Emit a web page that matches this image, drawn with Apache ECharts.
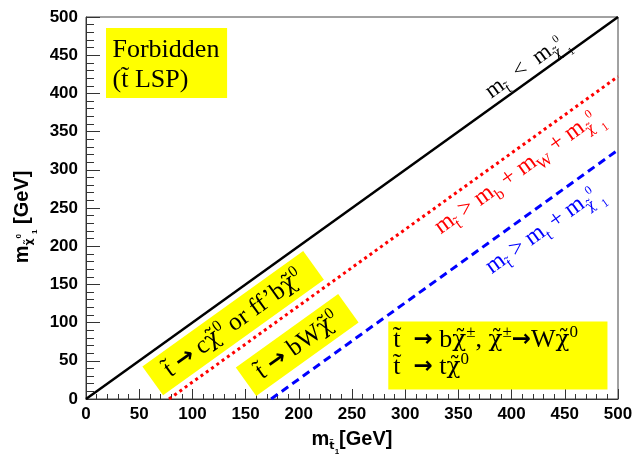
<!DOCTYPE html>
<html><head><meta charset="utf-8">
<script src="https://cdn.jsdelivr.net/npm/echarts@6.0.0/dist/echarts.min.js"></script>
<style>html,body{margin:0;padding:0;background:#fff;}#main{width:644px;height:459px;}</style>
</head><body><div id="main"></div>
<script>
// ---------------- data ----------------
const axisMin = 0;
const axisMax = 500;
const tickStep = 50;
// m(stop) = m(chi)
const limitStopLspX = [0, 500];
const limitStopLspY = [0, 500];
// m(stop) = m(b) + m(W) + m(chi)
const limitBWX = [78, 500];
const limitBWY = [0, 422];
// m(stop) = m(t) + m(chi)
const limitTopX = [174, 500];
const limitTopY = [0, 326];

const T = 't\u0303';      // stop (t tilde)
const CHI = '\u03c7\u0303'; // neutralino (chi tilde)
const ARR = '\u2192';

const SERIF = "'Liberation Serif','Times New Roman',serif";
const DJS = "'DejaVu Serif',serif";
const SANS = "'Liberation Sans',Arial,Helvetica,sans-serif";

function pairs(xs, ys) { return xs.map((x, i) => [x, ys[i]]); }

const chart = echarts.init(document.getElementById('main'), null, {renderer: 'canvas'});

function serifRich(F, color, L) {
  L = L || Math.round(F * 1.4);
  const base = {fontFamily: SERIF, fill: color, lineHeight: L};
  const sub = Math.round(F * 0.65), tiny = Math.round(F * 0.48);
  return {
    r: Object.assign({}, base, {fontSize: F}),
    c: Object.assign({}, base, {fontFamily: DJS, fontSize: Math.round(F * 0.9)}),
    ar: Object.assign({}, base, {fontFamily: "'DejaVu Sans',sans-serif", fontWeight: 'bold', fontSize: Math.round(F * 0.9)}),
    sb: Object.assign({}, base, {fontSize: sub, padding: [Math.round(F * 0.7), 0, 0, 0]}),
    cb: Object.assign({}, base, {fontFamily: DJS, fontSize: Math.round(sub * 0.9), padding: [Math.round(F * 0.7), 0, 0, 0]}),
    sp: Object.assign({}, base, {fontSize: sub, padding: [0, 0, Math.round(F * 0.6), 0]}),
    s0: Object.assign({}, base, {fontSize: tiny, padding: [0, 0, Math.round(F * 0.4), 0]}),
    s1: Object.assign({}, base, {fontSize: tiny, padding: [Math.round(F * 1.25), 0, 0, 0]})
  };
}
function sansRich(F) {
  const L = Math.round(F * 1.4);
  const base = {fontFamily: SANS, fontWeight: 'bold', fill: '#000', lineHeight: L};
  return {
    b: Object.assign({}, base, {fontSize: F}),
    sb: Object.assign({}, base, {fontSize: Math.round(F * 0.6), padding: [Math.round(F * 0.7), 0, 0, 0]}),
    cb: Object.assign({}, base, {fontFamily: "'DejaVu Sans',sans-serif", fontSize: Math.round(F * 0.55), padding: [Math.round(F * 0.7), 0, 0, 0]}),
    s0: Object.assign({}, base, {fontSize: Math.round(F * 0.42), padding: [0, 0, Math.round(F * 0.3), 0]}),
    s1: Object.assign({}, base, {fontSize: Math.round(F * 0.42), padding: [Math.round(F * 1.3), 0, 0, 0]})
  };
}

const axisLineStyle = {color: '#333', width: 1};

const option = {
  animation: false,
  backgroundColor: '#fff',
  grid: {left: 86, right: 26, top: 17, bottom: 60, outerBoundsMode: 'none', containLabel: false,
         show: true, borderColor: '#444', borderWidth: 1, backgroundColor: 'transparent'},
  xAxis: {
    type: 'value', min: axisMin, max: axisMax, interval: tickStep,
    splitLine: {show: false},
    axisLine: {show: true, onZero: false, lineStyle: axisLineStyle},
    axisTick: {show: true, inside: true, length: 10, lineStyle: axisLineStyle},
    minorTick: {show: true, splitNumber: 5, length: 5, lineStyle: axisLineStyle},
    axisLabel: {color: '#000', fontFamily: SANS, fontWeight: 'bold', fontSize: 17, margin: 7}
  },
  yAxis: {
    type: 'value', min: axisMin, max: axisMax, interval: tickStep,
    splitLine: {show: false},
    axisLine: {show: true, onZero: false, lineStyle: axisLineStyle},
    axisTick: {show: true, inside: true, length: 14, lineStyle: axisLineStyle},
    minorTick: {show: true, splitNumber: 5, length: 8, lineStyle: axisLineStyle},
    axisLabel: {color: '#000', fontFamily: SANS, fontWeight: 'bold', fontSize: 17, margin: 8}
  },
  series: [
    {type: 'line', data: pairs(limitStopLspX, limitStopLspY), symbol: 'none', silent: true,
     lineStyle: {color: '#000', width: 2.5, type: 'solid'}},
    {type: 'line', data: pairs(limitBWX, limitBWY), symbol: 'none', silent: true,
     lineStyle: {color: '#ff0000', width: 3, type: [3, 3.5]}},
    {type: 'line', data: pairs(limitTopX, limitTopY), symbol: 'none', silent: true,
     lineStyle: {color: '#0000ff', width: 3, type: [8, 5]}}
  ]
};
chart.setOption(option);

function px(x, y) { return chart.convertToPixel({gridIndex: 0}, [x, y]); }
const o = px(limitStopLspX[0], limitStopLspY[0]);
const e = px(limitStopLspX[1], limitStopLspY[1]);
const ang = Math.atan2(o[1] - e[1], e[0] - o[0]);
const YEL = '#ffff00';

function box(x1, y1, x2, y2) {
  const a = px(x1, y1), b = px(x2, y2);
  return {type: 'rect', z: 10, shape: {x: a[0], y: a[1], width: b[0] - a[0], height: b[1] - a[1]}, style: {fill: YEL}};
}

const g = [];
// axis titles
(function () {
  const mid = px((axisMin + axisMax) / 2, (axisMin + axisMax) / 2);
  g.push({type: 'text', z: 11, x: mid[0], y: o[1] + 40,
    style: {text: '{b|m}{cb|' + T + '}{s1|1}{b|[GeV]}', rich: sansRich(20), fill: '#000', align: 'center', verticalAlign: 'middle'}});
  g.push({type: 'text', z: 11, x: 22, y: mid[1] + 9, rotation: Math.PI / 2,
    style: {text: '{b|m}{cb|' + CHI + '}{s0|0}{s1|1}{b| [GeV]}', rich: sansRich(20), fill: '#000', align: 'center', verticalAlign: 'middle'}});
})();

// Forbidden box
g.push(box(18.8, 485.6, 132.6, 394));
(function () {
  const a = px(18.8, 485.6);
  g.push({type: 'text', z: 11, x: a[0] + 6.5, y: a[1] + 7,
    style: {text: '{r|Forbidden}\n{r|(' + T + ' LSP)}', rich: serifRich(26, '#000', 30), fill: '#000',
      align: 'left', verticalAlign: 'top'}});
})();

// rotated box 1
(function () {
  const c = px(138.3, 99.3);
  g.push({type: 'group', x: c[0], y: c[1], rotation: ang, z: 10, children: [
    {type: 'rect', z: 10, shape: {x: -99, y: -17.75, width: 198, height: 35.5}, style: {fill: YEL}},
    {type: 'text', z: 11, x: 0, y: 1, style: {
      text: '{r|' + T + ' }{ar|' + ARR + '}{r| c}{c|' + CHI + '}{sp|0}{r| or ff\u2019b}{c|' + CHI + '}{sp|0}',
      rich: serifRich(25, '#000', 34), fill: '#000', align: 'center', verticalAlign: 'middle'}}
  ]});
})();
// rotated box 2
(function () {
  const c = px(198.5, 70.6);
  g.push({type: 'group', x: c[0], y: c[1], rotation: ang, z: 10, children: [
    {type: 'rect', z: 10, shape: {x: -63, y: -17.5, width: 126, height: 35}, style: {fill: YEL}},
    {type: 'text', z: 11, x: 0, y: 1, style: {
      text: '{r|' + T + ' }{ar|' + ARR + '}{r| bW}{c|' + CHI + '}{sp|0}',
      rich: serifRich(25, '#000', 34), fill: '#000', align: 'center', verticalAlign: 'middle'}}
  ]});
})();
// bottom-right box
g.push(box(284.1, 101.3, 490.1, 12.4));
(function () {
  const a = px(284.1, 101.3);
  g.push({type: 'text', z: 11, x: a[0] + 5, y: a[1] + 5,
    style: {text: '{r|' + T + '  }{ar|' + ARR + '}{r| b}{c|' + CHI + '}{sp|\u00b1}{r|, }{c|' + CHI + '}{sp|\u00b1}{ar|' + ARR + '}{r|W}{c|' + CHI + '}{sp|0}\n' +
                  '{r|' + T + '  }{ar|' + ARR + '}{r| t}{c|' + CHI + '}{sp|0}',
      rich: serifRich(26, '#000', 27), fill: '#000', align: 'left', verticalAlign: 'top'}});
})();

// line labels
function lineLabel(dx, dy, text, F, color) {
  const c = px(dx, dy);
  g.push({type: 'text', z: 11, x: c[0], y: c[1], rotation: ang,
    style: {text: text, rich: serifRich(F, color), fill: color, align: 'center', verticalAlign: 'middle'}});
}
lineLabel(414, 436, '{r|m}{sb|' + T + '}{r|  <  m}{cb|' + CHI + '}{s0|0}{s1|1}', 23, '#000');
lineLabel(406, 298, '{r|m}{sb|' + T + '}{r| > m}{sb|b}{r| + m}{sb|W}{r| + m}{cb|' + CHI + '}{s0|0}{s1|1}', 24, '#ff0000');
lineLabel(430, 222, '{r|m}{sb|' + T + '}{r| > m}{sb|t}{r| + m}{cb|' + CHI + '}{s0|0}{s1|1}', 24, '#0000ff');

chart.setOption({graphic: {elements: g}});
</script></body></html>
